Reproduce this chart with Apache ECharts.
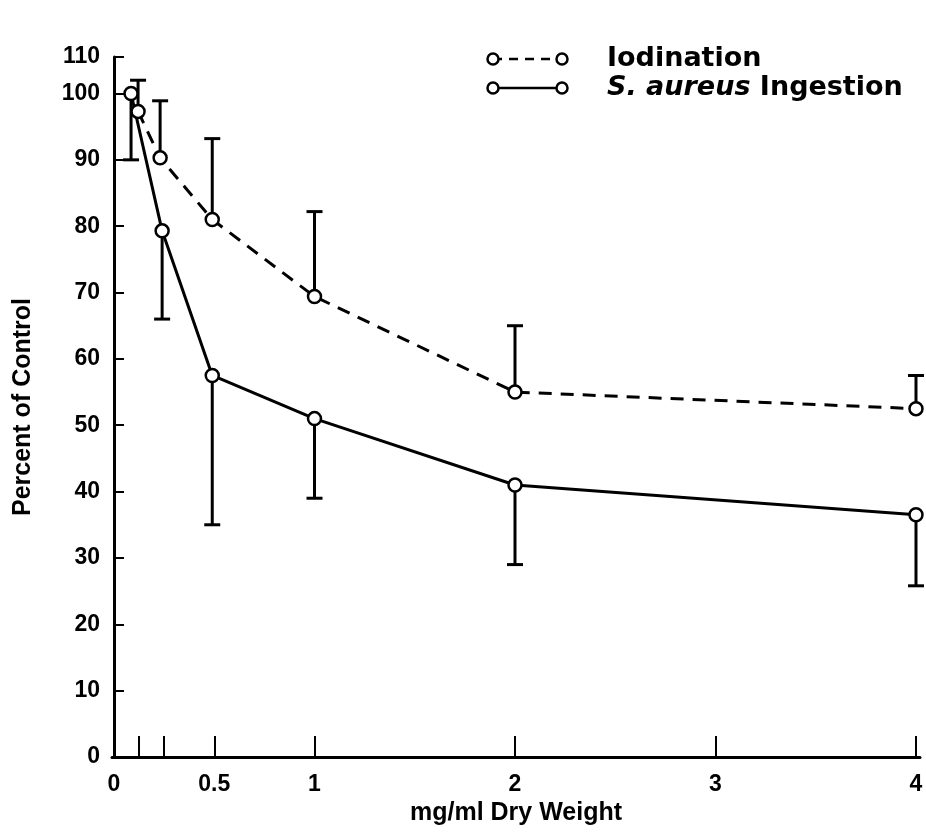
<!DOCTYPE html>
<html>
<head>
<meta charset="utf-8">
<script src="https://cdn.jsdelivr.net/npm/echarts@6/dist/echarts.min.js"></script>
<style>
  html, body { margin: 0; padding: 0; background: #fff; }
  #main { width: 926px; height: 836px; }
</style>
</head>
<body>
<div id="main"></div>
<script>
// values
var ingestionX = [0.085, 0.24, 0.49, 1, 2, 4];
var ingestionY = [100, 79.3, 57.5, 51, 41, 36.5];
var ingestionErrEnd = [90, 66, 35, 39, 29, 25.8];

var iodinationX = [0.12, 0.23, 0.49, 1, 2, 4];
var iodinationY = [97.3, 90.3, 81, 69.4, 55, 52.5];
var iodinationErrEnd = [102, 98.9, 93.2, 82.2, 65, 57.5];

var xTicks = [0.125, 0.25, 0.5, 1, 2, 3, 4];
var xLabels = [0, 0.5, 1, 2, 3, 4];
var yTicks = [0, 10, 20, 30, 40, 50, 60, 70, 80, 90, 100, 105.5];

var FONT = '"Liberation Sans", Arial, sans-serif';
var LEGEND_FONT = '"DejaVu Sans", sans-serif';

function pairs(xs, ys) {
  return xs.map(function (x, i) { return [x, ys[i]]; });
}
function triples(xs, ys, es) {
  return xs.map(function (x, i) { return [x, ys[i], es[i]]; });
}

function errorBar(params, api) {
  var x = api.value(0);
  var p1 = api.coord([x, api.value(1)]);
  var p2 = api.coord([x, api.value(2)]);
  var style = { stroke: '#000', lineWidth: 3 };
  return {
    type: 'group',
    children: [
      { type: 'line', shape: { x1: p1[0], y1: p1[1], x2: p2[0], y2: p2[1] }, style: style },
      { type: 'line', shape: { x1: p2[0] - 8, y1: p2[1], x2: p2[0] + 8, y2: p2[1] }, style: style }
    ]
  };
}

var chart = echarts.init(document.getElementById('main'));

var ringStyle = { fill: '#fff', stroke: '#000', lineWidth: 2.5 };

var option = {
  backgroundColor: '#fff',
  animation: false,
  grid: { left: 112, right: 6, top: 57, bottom: 79 },
  xAxis: {
    type: 'value',
    min: -0.01,
    max: 4.02,
    name: 'mg/ml Dry Weight',
    nameLocation: 'middle',
    nameGap: 42,
    nameTextStyle: { color: '#000', fontSize: 25, fontWeight: 'bold', fontFamily: FONT },
    splitLine: { show: false },
    axisLine: { lineStyle: { color: '#000', width: 3 } },
    axisTick: { inside: true, length: 21, customValues: xTicks, lineStyle: { color: '#000', width: 2 } },
    axisLabel: {
      customValues: xLabels,
      margin: 16,
      color: '#000', fontSize: 23, fontWeight: 'bold', fontFamily: FONT
    }
  },
  yAxis: {
    type: 'value',
    min: 0,
    max: 105.5,
    name: 'Percent of Control',
    nameLocation: 'middle',
    nameGap: 76,
    nameRotate: 90,
    nameTextStyle: { color: '#000', fontSize: 25, fontWeight: 'bold', fontFamily: FONT },
    splitLine: { show: false },
    axisLine: { lineStyle: { color: '#000', width: 3 } },
    axisTick: { inside: true, length: 10, customValues: yTicks, lineStyle: { color: '#000', width: 2 } },
    axisLabel: {
      customValues: yTicks,
      margin: 12,
      color: '#000', fontSize: 23, fontWeight: 'bold', fontFamily: FONT,
      formatter: function (v) { return v > 100 ? '110' : String(v); }
    }
  },
  graphic: [
    { type: 'line', shape: { x1: 493, y1: 59, x2: 562, y2: 59 }, style: { stroke: '#000', lineWidth: 2.5, lineDash: [9, 7] } },
    { type: 'circle', shape: { cx: 493, cy: 59, r: 5.5 }, style: ringStyle },
    { type: 'circle', shape: { cx: 562, cy: 59, r: 5.5 }, style: ringStyle },
    { type: 'text', x: 607, y: 59, style: { text: 'Iodination', fill: '#000', font: 'bold 27px ' + LEGEND_FONT, verticalAlign: 'middle' } },
    { type: 'line', shape: { x1: 493, y1: 88, x2: 562, y2: 88 }, style: { stroke: '#000', lineWidth: 2.5 } },
    { type: 'circle', shape: { cx: 493, cy: 88, r: 5.5 }, style: ringStyle },
    { type: 'circle', shape: { cx: 562, cy: 88, r: 5.5 }, style: ringStyle },
    {
      type: 'text', x: 607, y: 88,
      style: {
        text: '{i|S. aureus} Ingestion', fill: '#000', font: 'bold 27px ' + LEGEND_FONT, verticalAlign: 'middle',
        rich: { i: { fontStyle: 'italic', fontWeight: 'bold', fontSize: 27, fontFamily: LEGEND_FONT, fill: '#000' } }
      }
    }
  ],
  series: [
    {
      name: 'Iodination error',
      type: 'custom',
      renderItem: errorBar,
      data: triples(iodinationX, iodinationY, iodinationErrEnd),
      z: 1,
      clip: false
    },
    {
      name: 'Ingestion error',
      type: 'custom',
      renderItem: errorBar,
      data: triples(ingestionX, ingestionY, ingestionErrEnd),
      z: 1,
      clip: false
    },
    {
      name: 'Iodination',
      type: 'line',
      data: pairs(iodinationX, iodinationY),
      symbol: 'circle',
      symbolSize: 13,
      itemStyle: { color: '#fff', borderColor: '#000', borderWidth: 2.5 },
      lineStyle: { color: '#000', width: 3, type: [13, 9] },
      z: 3,
      clip: false
    },
    {
      name: 'S. aureus Ingestion',
      type: 'line',
      data: pairs(ingestionX, ingestionY),
      symbol: 'circle',
      symbolSize: 13,
      itemStyle: { color: '#fff', borderColor: '#000', borderWidth: 2.5 },
      lineStyle: { color: '#000', width: 3 },
      z: 3,
      clip: false
    }
  ]
};

chart.setOption(option);
</script>
</body>
</html>
